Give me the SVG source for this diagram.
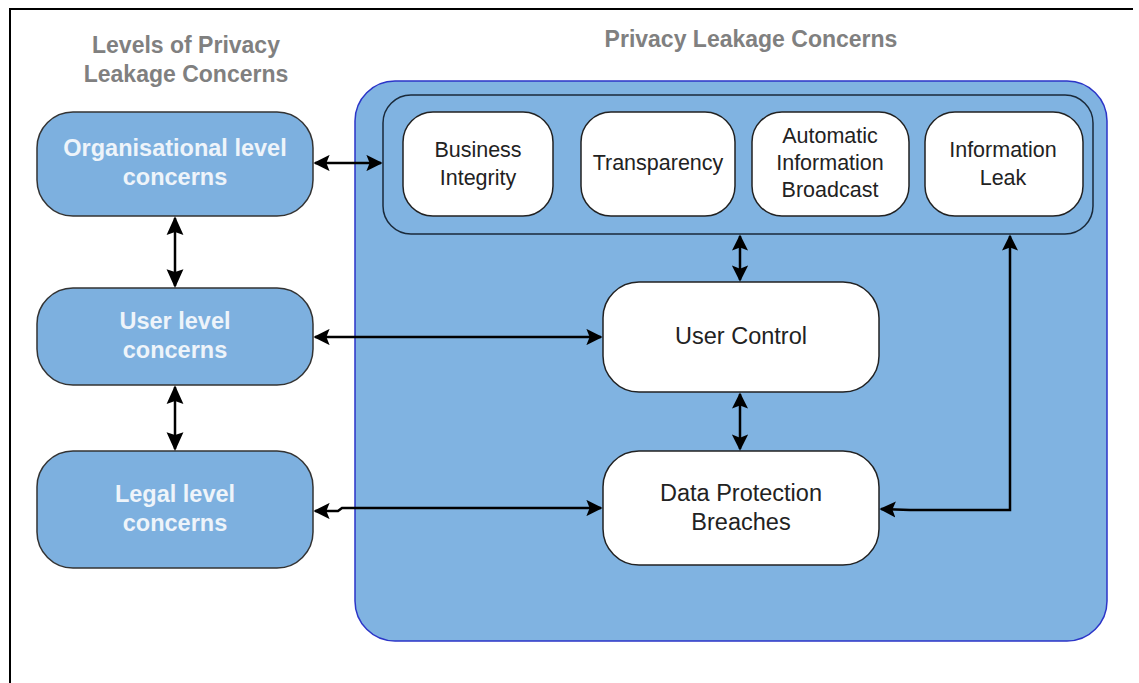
<svg xmlns="http://www.w3.org/2000/svg" width="1139" height="683" viewBox="0 0 1139 683">
<defs>
<style>
.title{font-family:"Liberation Sans",Arial,sans-serif;font-weight:bold;font-size:23px;fill:#808080;text-anchor:middle}
.lvl{fill:#7DB0DF;stroke:#333;stroke-width:1.5}
.lvlt{font-family:"Liberation Sans",Arial,sans-serif;font-weight:bold;font-size:23.5px;fill:#EEF4FA;text-anchor:middle}
.wb{fill:#fff;stroke:#222;stroke-width:1.5}
.wt{font-family:"Liberation Sans",Arial,sans-serif;font-size:21.5px;fill:#222;text-anchor:middle}
.wtl{font-family:"Liberation Sans",Arial,sans-serif;font-size:23.5px;fill:#222;text-anchor:middle}
.con{fill:none;stroke:#000;stroke-width:2.5}
</style>
<marker id="ah" viewBox="0 0 10 10" refX="9" refY="5" markerWidth="6.5" markerHeight="6.5" orient="auto-start-reverse" markerUnits="strokeWidth">
<path d="M0,0 L10,5 L0,10 L2,5 Z" fill="#000"/>
</marker>
<marker id="ahb" viewBox="0 0 10 10" refX="9" refY="5" markerWidth="7.5" markerHeight="7.5" orient="auto-start-reverse" markerUnits="strokeWidth">
<path d="M0,0.5 L10,5 L0,9.5 L1.5,5 Z" fill="#000"/>
</marker>
</defs>
<rect width="1139" height="683" fill="#fff"/>
<path d="M10,683 V9 H1133" fill="none" stroke="#000" stroke-width="2"/>
<text class="title" x="186" y="53">Levels of Privacy</text>
<text class="title" x="186" y="82">Leakage Concerns</text>
<text class="title" x="751" y="47">Privacy Leakage Concerns</text>
<g id="container">
<rect x="355" y="81" width="752" height="560" rx="40" fill="#80B3E1" stroke="#2B35C8" stroke-width="1.5"/>
<rect x="383" y="95" width="710" height="139" rx="28" fill="#80B3E1" stroke="#1a2a3a" stroke-width="1.5"/>
</g>
<g id="org"><rect class="lvl" x="37" y="112" width="276" height="104" rx="36"/><text class="lvlt" x="175" y="156">Organisational level</text><text class="lvlt" x="175" y="185">concerns</text></g>
<g id="user"><rect class="lvl" x="37" y="288" width="276" height="97" rx="36"/><text class="lvlt" x="175" y="329">User level</text><text class="lvlt" x="175" y="358">concerns</text></g>
<g id="legal"><rect class="lvl" x="37" y="451" width="276" height="117" rx="36"/><text class="lvlt" x="175" y="502">Legal level</text><text class="lvlt" x="175" y="531">concerns</text></g>
<g id="business"><rect class="wb" x="403" y="112" width="150" height="104" rx="30"/><text class="wt" x="478" y="157">Business</text><text class="wt" x="478" y="185">Integrity</text></g>
<g id="transparency"><rect class="wb" x="581" y="112" width="154" height="104" rx="30"/><text class="wt" x="658" y="170">Transparency</text></g>
<g id="broadcast"><rect class="wb" x="752" y="112" width="157" height="104" rx="30"/><text class="wt" x="830" y="143">Automatic</text><text class="wt" x="830" y="170">Information</text><text class="wt" x="830" y="197">Broadcast</text></g>
<g id="leak"><rect class="wb" x="925" y="112" width="158" height="104" rx="30"/><text class="wt" x="1003" y="157">Information</text><text class="wt" x="1003" y="185">Leak</text></g>
<g id="usercontrol"><rect class="wb" x="603" y="282" width="276" height="110" rx="36"/><text class="wtl" x="741" y="344">User Control</text></g>
<g id="dpb"><rect class="wb" x="603" y="451" width="276" height="114" rx="36"/><text class="wtl" x="741" y="501">Data Protection</text><text class="wtl" x="741" y="530">Breaches</text></g>
<g id="connectors">
<line class="con" x1="315" y1="163" x2="381" y2="163" marker-start="url(#ah)" marker-end="url(#ah)"/>
<line class="con" x1="175" y1="218" x2="175" y2="286" marker-start="url(#ahb)" marker-end="url(#ahb)"/>
<line class="con" x1="175" y1="387" x2="175" y2="449" marker-start="url(#ahb)" marker-end="url(#ahb)"/>
<line class="con" x1="315" y1="337" x2="601" y2="337" marker-start="url(#ah)" marker-end="url(#ah)"/>
<path class="con" d="M315,511 H338 L342,508 H601" marker-start="url(#ah)" marker-end="url(#ah)"/>
<line class="con" x1="740" y1="236" x2="740" y2="280" marker-start="url(#ah)" marker-end="url(#ah)"/>
<line class="con" x1="740" y1="394" x2="740" y2="449" marker-start="url(#ah)" marker-end="url(#ah)"/>
<path class="con" d="M881,509 L910,510 H1010 V236" marker-start="url(#ah)" marker-end="url(#ah)"/>
</g>
</svg>
